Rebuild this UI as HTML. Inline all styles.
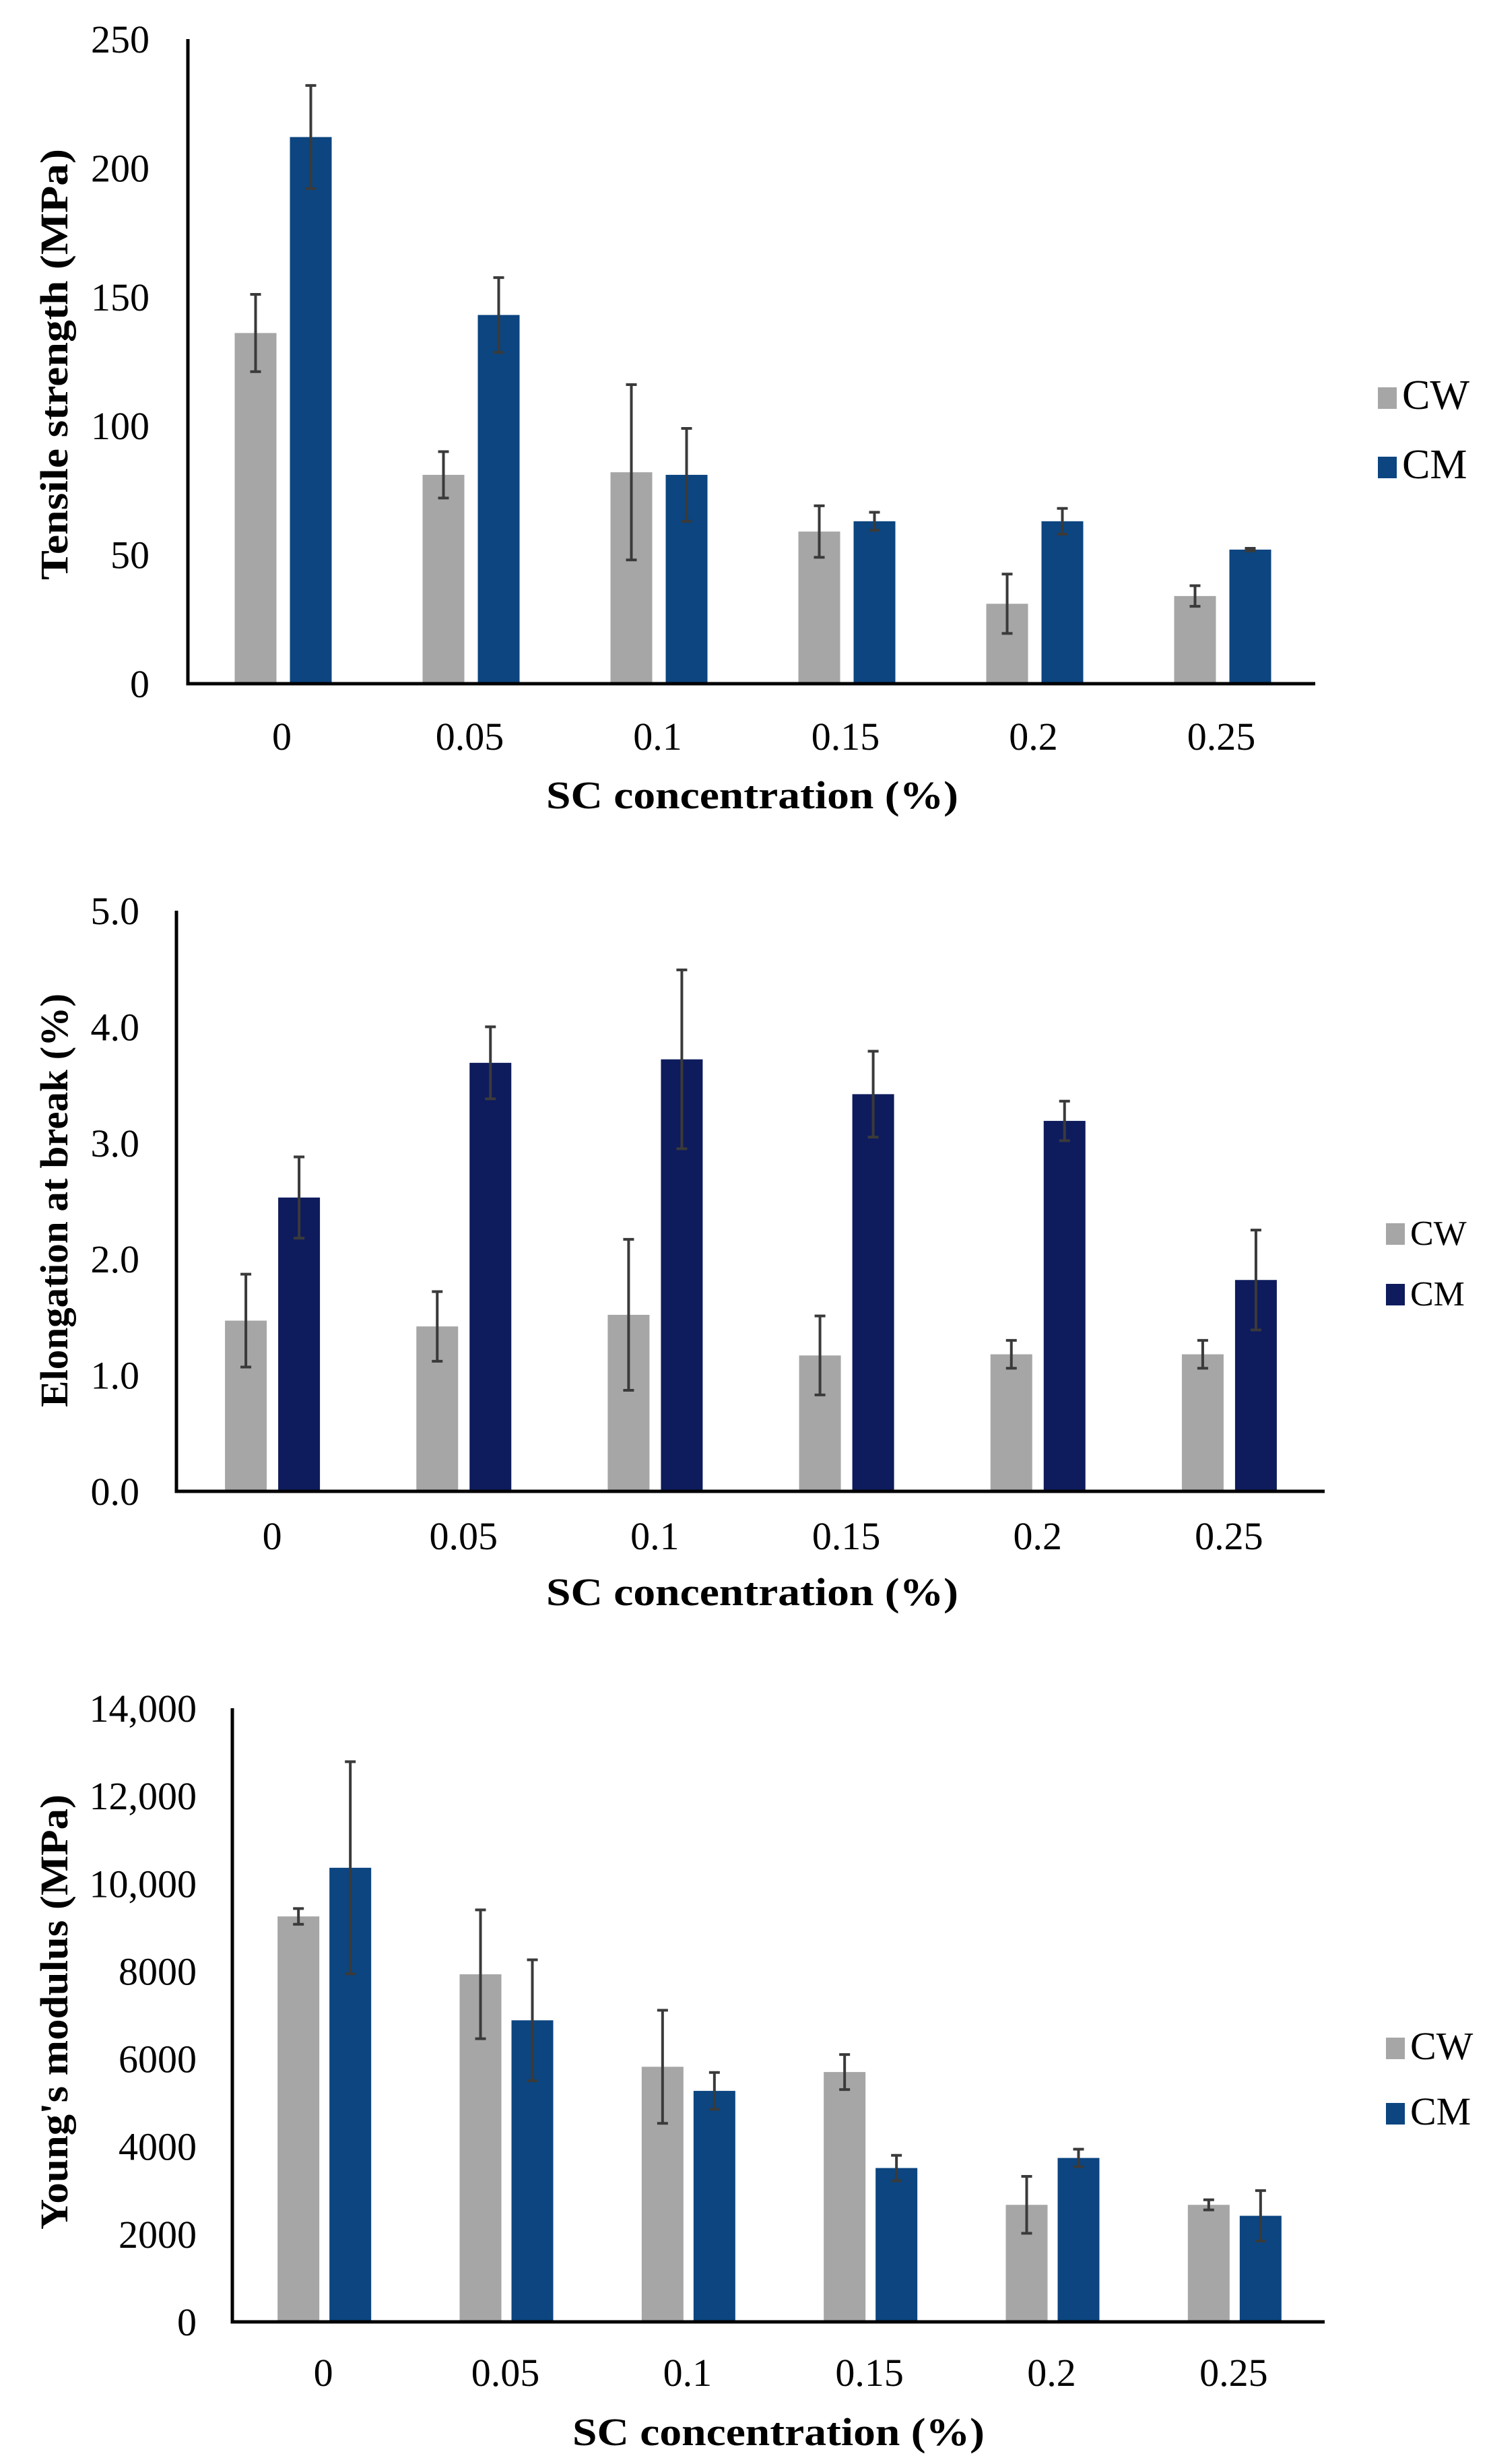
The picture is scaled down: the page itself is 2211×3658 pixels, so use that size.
<!DOCTYPE html>
<html><head><meta charset="utf-8">
<style>
html,body{margin:0;padding:0;background:#fff;}
svg{display:block;}
text{font-family:"Liberation Serif",serif;fill:#000;}
</style></head>
<body>
<svg id="fig" width="2211" height="3658" viewBox="0 0 2211 3658" xmlns="http://www.w3.org/2000/svg"></svg>
<script>
const categories = ["0","0.05","0.1","0.15","0.2","0.25"];
const series = ["CW","CM"];
// Chart 1: Tensile strength
const tsCW = [136,81,82,59,31,34];
const tsCWerr = [15,9,34,10,11.5,4];
const tsCM = [212,143,81,63,63,52];
const tsCMerr = [20,14.5,18,3.5,5,0.5];
const tsTicks = [0,50,100,150,200,250];
const tsTickLabels = ["0","50","100","150","200","250"];
// Chart 2: Elongation at break
const elCW = [1.47,1.42,1.52,1.17,1.18,1.18];
const elCWerr = [0.4,0.3,0.65,0.34,0.12,0.12];
const elCM = [2.53,3.69,3.72,3.42,3.19,1.82];
const elCMerr = [0.35,0.31,0.77,0.37,0.17,0.43];
const elTicks = [0,1,2,3,4,5];
const elTickLabels = ["0.0","1.0","2.0","3.0","4.0","5.0"];
// Chart 3: Young's modulus
const ymCW = [9250,7930,5820,5700,2670,2670];
const ymCWerr = [180,1470,1290,400,650,115];
const ymCM = [10360,6880,5270,3510,3740,2420];
const ymCMerr = [2420,1380,420,290,200,575];
const ymTicks = [0,2000,4000,6000,8000,10000,12000,14000];
const ymTickLabels = ["0","2000","4000","6000","8000","10,000","12,000","14,000"];

const NS = "http://www.w3.org/2000/svg";
const svg = document.getElementById("fig");
function mk(tag, attrs, parent){
  const e = document.createElementNS(NS, tag);
  for (const k in attrs) e.setAttribute(k, attrs[k]);
  (parent||svg).appendChild(e);
  return e;
}
function chart(cfg){
  const g = mk("g", {});
  
  
  const y = v => cfg.base - (v - 0) / cfg.max * (cfg.base - cfg.top);
  const step = (cfg.x1 - cfg.x0) / categories.length;
  const cx = i => cfg.x0 + step * (i + 0.5);
  cfg.ticks.forEach((t, i) => {
    const tx = mk("text", {x: cfg.tickRight, y: y(t) + 20, "text-anchor": "end", "font-size": 58}, g);
    tx.textContent = cfg.tickLabels[i];
    
    
  });
  const sets = [[cfg.cw, cfg.cwErr, "#a6a6a6", cfg.cwOff], [cfg.cm, cfg.cmErr, cfg.cmColor, cfg.cmOff]];
  sets.forEach((s, si) => {
    s[0].forEach((v, i) => {
      const bx = cx(i) + s[3];
      const r = mk("rect", {x: bx, y: y(v), width: cfg.bw, height: cfg.base - y(v), fill: s[2]}, g);
      
      
    });
  });
  sets.forEach((s, si) => {
    s[0].forEach((v, i) => {
      const ex = cx(i) + s[3] + cfg.bw / 2;
      const hi = y(v + s[1][i]), lo = y(v - s[1][i]);
      const eb = mk("path", {d: `M${ex},${hi}V${lo}M${ex-8},${hi}H${ex+8}M${ex-8},${lo}H${ex+8}`, stroke: "#3a3a3a", "stroke-width": 4, fill: "none"}, g);
      
      
    });
  });
  const ax = mk("path", {d: `M${cfg.x0},${cfg.top}V${cfg.base}H${cfg.x1}`, stroke: "#000", "stroke-width": 5, fill: "none"}, g);
  
  
  categories.forEach((c, i) => {
    const tx = mk("text", {x: cx(i), y: cfg.xlabY, "text-anchor": "middle", "font-size": 58}, g);
    tx.textContent = c;
    
    
  });
  const xt = mk("text", {x: cfg.xtX, y: cfg.xtY, "text-anchor": "middle", "font-size": 58, "font-weight": "bold", textLength: 612, lengthAdjust: "spacingAndGlyphs"}, g);
  xt.textContent = "SC concentration (%)";
  
  
  const yt = mk("text", {x: 0, y: 0, "text-anchor": "middle", "font-size": 58, "font-weight": "bold", textLength: cfg.ytLen, lengthAdjust: "spacingAndGlyphs", transform: `translate(100,${cfg.ytY}) rotate(-90)`}, g);
  yt.textContent = cfg.ytitle;
  
  
  [["CW", "#a6a6a6", cfg.legY[0]], ["CM", cfg.cmColor, cfg.legY[1]]].forEach(l => {
    const sw = mk("rect", {x: cfg.legX, y: l[2] - 32, width: 28, height: 32, fill: l[1]}, g);
    
    
    const lt = mk("text", {x: cfg.legX + 36, y: l[2], "font-size": cfg.legFs, fill: cfg.legColor}, g);
    lt.textContent = l[0];
    
    
  });
}
chart({name: "tensile-strength-chart", cw: tsCW, cwErr: tsCWerr, cm: tsCM, cmErr: tsCMerr, ticks: tsTicks, tickLabels: tsTickLabels,
  max: 250, base: 1015, top: 58, x0: 279, x1: 1953, bw: 62, cwOff: -70, cmOff: 12, cmColor: "#0c4580",
  tickRight: 222, xlabY: 1113, xtX: 1117, xtY: 1200, ytitle: "Tensile strength (MPa)", ytY: 541, ytLen: 640,
  legX: 2046, legY: [607, 710], legFs: 62, legColor: "#000"});
chart({name: "elongation-chart", cw: elCW, cwErr: elCWerr, cm: elCM, cmErr: elCMerr, ticks: elTicks, tickLabels: elTickLabels,
  max: 5, base: 2214, top: 1352, x0: 262, x1: 1967, bw: 62, cwOff: -70, cmOff: 9, cmColor: "#0e1c5d",
  tickRight: 207, xlabY: 2300, xtX: 1117, xtY: 2383, ytitle: "Elongation at break (%)", ytY: 1782, ytLen: 614,
  legX: 2058, legY: [1848, 1938], legFs: 52, legColor: "#555"});
chart({name: "youngs-modulus-chart", cw: ymCW, cwErr: ymCWerr, cm: ymCM, cmErr: ymCMerr, ticks: ymTicks, tickLabels: ymTickLabels,
  max: 14000, base: 3447, top: 2536, x0: 345, x1: 1967, bw: 62, cwOff: -68, cmOff: 9, cmColor: "#0c4580",
  tickRight: 292, xlabY: 3542, xtX: 1156, xtY: 3630, ytitle: "Young's modulus (MPa)", ytY: 2987, ytLen: 646,
  legX: 2058, legY: [3057, 3154], legFs: 58, legColor: "#000"});
</script>
</body></html>
